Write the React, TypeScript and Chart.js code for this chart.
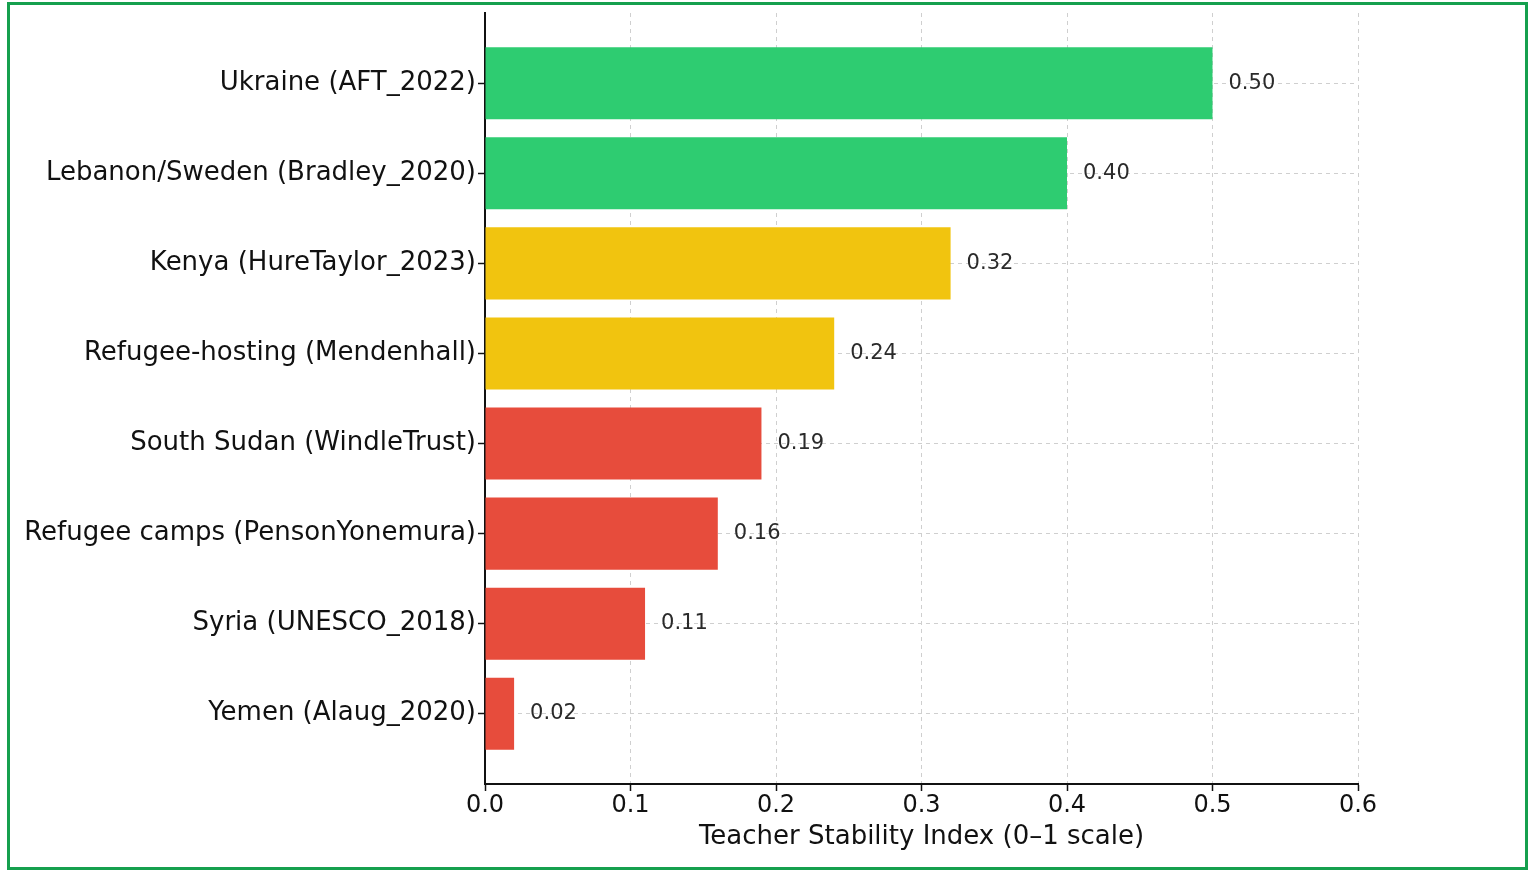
import React, { useEffect, useRef } from "react";
import { Chart, registerables } from "chart.js";

Chart.register(...registerables);

const categories = [
  "Ukraine (AFT_2022)",
  "Lebanon/Sweden (Bradley_2020)",
  "Kenya (HureTaylor_2023)",
  "Refugee-hosting (Mendenhall)",
  "South Sudan (WindleTrust)",
  "Refugee camps (PensonYonemura)",
  "Syria (UNESCO_2018)",
  "Yemen (Alaug_2020)",
];
const stabilityValues = [0.5, 0.4, 0.32, 0.24, 0.19, 0.16, 0.11, 0.02];
const barColors = ["#2ecc71", "#2ecc71", "#f1c40f", "#f1c40f", "#e74c3c", "#e74c3c", "#e74c3c", "#e74c3c"];
const xTicks = [0, 0.1, 0.2, 0.3, 0.4, 0.5, 0.6];
const xTitle = "Teacher Stability Index (0–1 scale)";

const FONT = "'DejaVu Sans', sans-serif";

export default function App() {
  const ref = useRef<HTMLCanvasElement | null>(null);

  useEffect(() => {
    if (!ref.current) return;
    const frame = {
      id: "frame",
      beforeDraw(chart: any) {
        const { ctx, width, height } = chart;
        ctx.save();
        ctx.fillStyle = "#ffffff";
        ctx.fillRect(0, 0, width, height);
        ctx.restore();
      },
      afterDraw(chart: any) {
        const ctx = chart.ctx;
        ctx.save();
        ctx.strokeStyle = "#15a04e";
        ctx.lineWidth = 3;
        ctx.strokeRect(8.5, 3.5, 1518, 865);
        ctx.restore();
      },
    };
    const valueLabels = {
      id: "valueLabels",
      afterDatasetsDraw(chart: any) {
        const ctx = chart.ctx;
        const meta = chart.getDatasetMeta(0);
        ctx.save();
        ctx.font = `21px ${FONT}`;
        ctx.fillStyle = "#2a2a2a";
        ctx.textAlign = "left";
        ctx.textBaseline = "middle";
        meta.data.forEach((bar: any, i: number) => {
          ctx.fillText(stabilityValues[i].toFixed(2), bar.x + 16, bar.y);
        });
        ctx.restore();
      },
    };
    const chart = new Chart(ref.current, {
      type: "bar",
      data: {
        datasets: [
          {
            data: stabilityValues.map((v, i) => ({ x: v, y: i })),
            backgroundColor: barColors,
            borderWidth: 0,
            barPercentage: 0.8,
            categoryPercentage: 1,
          },
        ],
      },
      options: {
        indexAxis: "y",
        animation: false,
        responsive: false,
        devicePixelRatio: 1,
        layout: { padding: { left: 0, right: 177, top: 13, bottom: 0 } },
        plugins: { legend: { display: false }, tooltip: { enabled: false } },
        scales: {
          x: {
            type: "linear",
            min: 0,
            max: 0.6,
            afterBuildTicks: (s: any) => {
              s.ticks = xTicks.map((v) => ({ value: v }));
            },
            afterFit: (s: any) => {
              s.height = 97;
            },
            ticks: {
              font: { family: FONT, size: 24 },
              color: "#111111",
              padding: 0,
              callback: (v: any) => Number(v).toFixed(1),
            },
            grid: {
              color: "#cfcfcf",
              lineWidth: 1,
              tickColor: "#111111",
              tickLength: 7,
              tickWidth: 1.5,
            },
            border: { display: true, color: "#111111", width: 2, dash: [4, 4] },
            title: {
              display: true,
              text: xTitle,
              font: { family: FONT, size: 26 },
              color: "#111111",
              padding: { top: 4, bottom: 28 },
            },
          },
          y: {
            type: "linear",
            reverse: true,
            offset: false,
            min: -0.78,
            max: 7.78,
            afterBuildTicks: (s: any) => {
              s.ticks = categories.map((_, i) => ({ value: i }));
            },
            afterFit: (s: any) => {
              s.width = 485;
              s.paddingTop = 0;
              s.paddingBottom = 0;
            },
            ticks: {
              font: { family: FONT, size: 26 },
              color: "#111111",
              padding: 2,
              callback: (v: any) => categories[Number(v)] ?? "",
            },
            grid: {
              offset: false,
              color: "#cfcfcf",
              lineWidth: 1,
              tickColor: "#111111",
              tickLength: 7,
              tickWidth: 1.5,
            },
            border: { display: true, color: "#111111", width: 2, dash: [4, 4] },
          },
        },
      },
      plugins: [frame, valueLabels],
    } as any);
    return () => chart.destroy();
  }, []);

  return (
    <div style={{ position: "fixed", left: 0, top: 0, width: 1535, height: 881, background: "#fff" }}>
      <canvas ref={ref} width={1535} height={881} style={{ display: "block" }} />
    </div>
  );
}
